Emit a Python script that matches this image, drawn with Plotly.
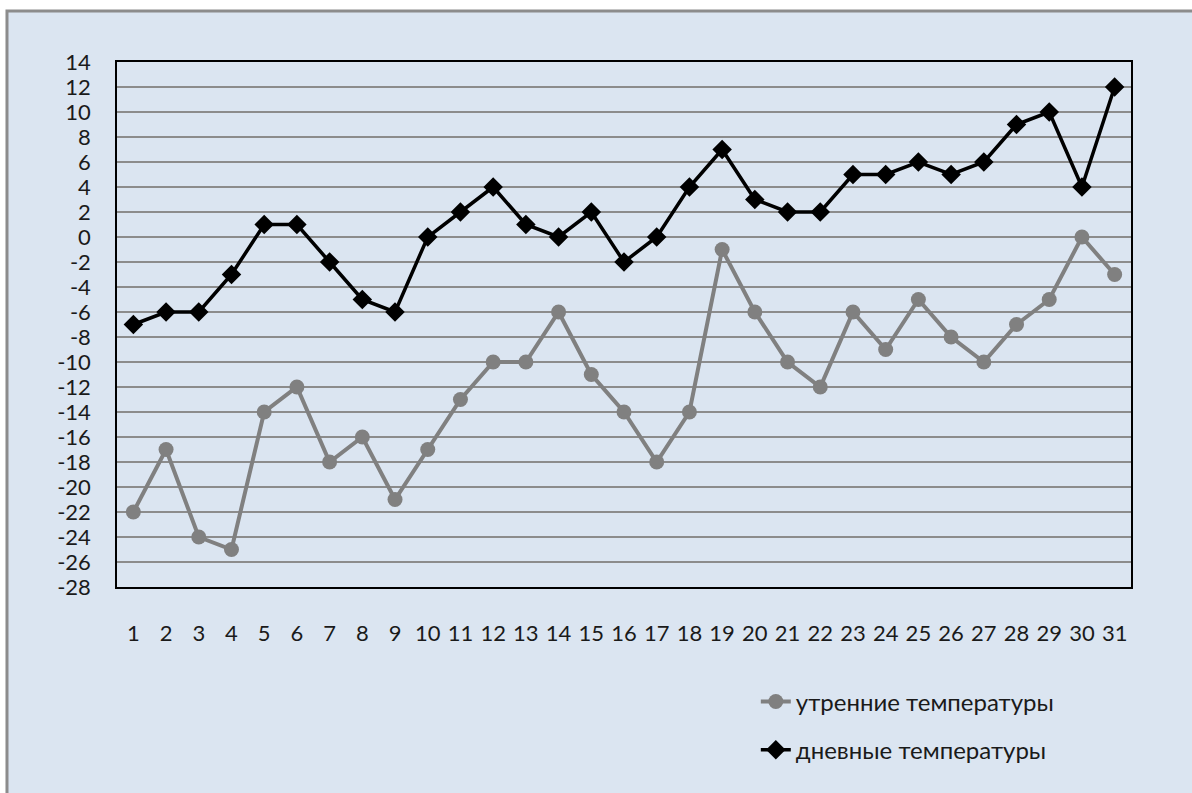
import plotly.graph_objects as go

days = list(range(1, 32))
morning = [-22, -17, -24, -25, -14, -12, -18, -16, -21, -17, -13, -10, -10, -6, -11,
           -14, -18, -14, -1, -6, -10, -12, -6, -9, -5, -8, -10, -7, -5, 0, -3]
daytime = [-7, -6, -6, -3, 1, 1, -2, -5, -6, 0, 2, 4, 1, 0, 2,
           -2, 0, 4, 7, 3, 2, 2, 5, 5, 6, 5, 6, 9, 10, 4, 12]
y_ticks = list(range(-28, 15, 2))

font = "Lato, 'Open Sans', sans-serif"

fig = go.Figure()

fig.add_trace(go.Scatter(
    x=days, y=morning, name="утренние температуры",
    mode="lines+markers", legendgroup="a",
    line=dict(color="#808080", width=4),
    marker=dict(symbol="circle", size=15, color="#808080"),
))
fig.add_trace(go.Scatter(
    x=days, y=daytime, name="дневные температуры",
    mode="lines+markers", legendgroup="b",
    line=dict(color="#000000", width=3.5),
    marker=dict(symbol="diamond", size=15, color="#000000"),
))

# outer chart box (light blue with grey frame, cut by the image edge)
fig.add_shape(type="rect", xref="paper", yref="paper",
              x0=-0.1085, x1=1.2, y0=-0.6, y1=1.097,
              fillcolor="#dbe5f1", line=dict(color="#8c8c8c", width=3),
              layer="below")

fig.update_layout(
    width=1192, height=793,
    margin=dict(l=117, r=61, t=62, b=206),
    paper_bgcolor="white",
    plot_bgcolor="rgba(0,0,0,0)",
    font=dict(family=font, size=22, color="#1a1a1a"),
    showlegend=True,
    legend=dict(x=0.63, y=-0.176, xanchor="left", yanchor="top",
                traceorder="grouped", tracegroupgap=14,
                bgcolor="rgba(0,0,0,0)",
                font=dict(family=font, size=24, color="#1a1a1a")),
    xaxis=dict(
        range=[0.5, 31.5], tickmode="array", tickvals=days,
        ticktext=[str(d) for d in days],
        showgrid=False, zeroline=False,
        showline=True, linecolor="#000000", linewidth=1.5, mirror=True,
        ticks="outside", ticklen=26, tickcolor="rgba(0,0,0,0)",
    ),
    yaxis=dict(
        range=[-28, 14], tickmode="array", tickvals=y_ticks,
        ticktext=[str(v) for v in y_ticks],
        showgrid=True, gridcolor="#8c8c8c", gridwidth=1.5,
        zeroline=False,
        showline=True, linecolor="#000000", linewidth=1.5, mirror=True,
        ticks="outside", ticklen=20, tickcolor="rgba(0,0,0,0)",
    ),
)

# drop the default page margin so the figure fills the window exactly
fig.write_html("out.html", config={"displayModeBar": False},
               post_script="document.body.style.margin='0';document.body.style.overflow='hidden';")
